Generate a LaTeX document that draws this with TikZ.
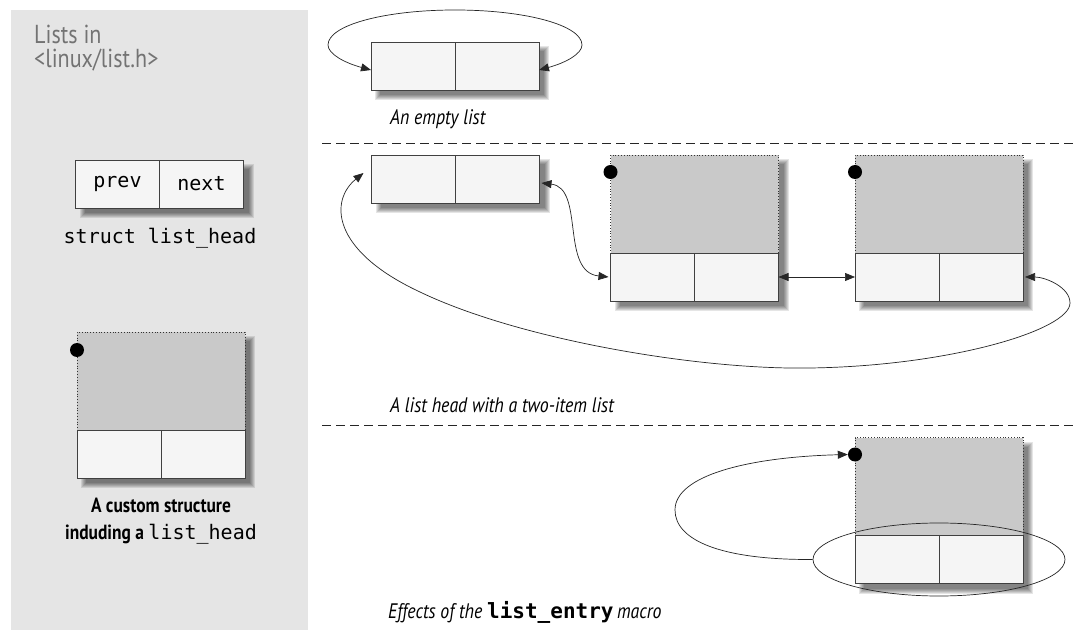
\documentclass[tikz,border=0pt]{standalone}
\usepackage{fontspec}
\setmainfont{PT Sans}
\setmonofont{DejaVu Sans Mono}
\newfontfamily\cfont[FakeStretch=0.85]{PT Sans}
\usetikzlibrary{arrows.meta,shapes.geometric}
\newcommand\softshadow[1]{%
  \foreach \e in {3,2,1,0,-1,-2}{%
    \fill[black, opacity=0.1] ([xshift=7pt-\e pt, yshift=-7pt+\e pt]#1.north west) rectangle ([xshift=7pt+\e pt, yshift=-7pt-\e pt]#1.south east);
  }}
\begin{document}
\begin{tikzpicture}[x=1pt,y=-1pt,
  cell/.style={draw=black!75, line width=0.9pt, fill=black!4, minimum width=84pt, minimum height=48pt, inner sep=0pt, outer sep=0pt},
  body/.style={draw=black!80, dotted, line width=0.8pt, fill=black!21, minimum width=168pt, minimum height=98pt, inner sep=0pt, outer sep=0pt},
  shad/.style={inner sep=0pt, outer sep=0pt, minimum width=168pt},
  bigdot/.style={circle, fill=black, minimum size=14pt, inner sep=0pt},
  conn/.style={line width=0.7pt, draw=black!85},
  tip/.tip={Triangle[length=10pt,width=8pt]},
  sep/.style={draw=black!85, dash pattern=on 9pt off 5pt, line width=0.9pt},
  capt/.style={font=\cfont\itshape\fontsize{21}{22}\selectfont, anchor=west, inner sep=0pt},
  mono/.style={font=\ttfamily\fontsize{20}{21}\selectfont}
]
\useasboundingbox (0,0) rectangle (1077,636);
\fill[white] (0,0) rectangle (1077,636);

% left panel
\node[fill=black!10, minimum width=297pt, minimum height=620pt, inner sep=0pt, anchor=north west] (panel) at (11,10) {};
\node[text=black!55, align=left, anchor=north west, inner sep=0pt, font=\cfont\fontsize{26}{24}\selectfont] (title) at (34,25) {Lists in\\<linux/list.h>};

% struct list_head
\node[shad, minimum height=48pt] (ps) at (159.5,184) {};
\softshadow{ps}
\node[cell, mono] (p1) at (117.5,184) {prev};
\node[cell, mono] (p2) at (201.5,184) {next};
\node[mono] (sl) at (160,238) {struct list\_head};

% custom structure
\node[shad, minimum height=146pt] (gs0) at (161,405) {};
\softshadow{gs0}
\node[body] (g0) at (161,381) {};
\node[cell] (d01) at (119,454) {};
\node[cell] (d02) at (203,454) {};
\node[bigdot] (k0) at ([yshift=-18pt]g0.north west) {};
\node[align=center, font=\cfont\bfseries\fontsize{20.5}{27}\selectfont] (cc) at (161,521) {A custom structure\\induding a {\ttfamily\mdseries\fontsize{20}{27}\selectfont list\_head}};

% empty list
\node[shad, minimum height=48pt] (es) at (455,66) {};
\softshadow{es}
\node[cell] (e1) at (413,66) {};
\node[cell] (e2) at (497,66) {};
\draw[conn, tip-tip] ([yshift=-4pt]e1.west) .. controls (345,63) and (328,54) .. (328,45)
  .. controls (328,25) and (385,10) .. (455,10)
  .. controls (525,10) and (582,25) .. (582,45)
  .. controls (582,54) and (565,63) .. ([yshift=-4pt]e2.east);
\node[capt] (c1) at (390,119) {An empty list};

\coordinate (s1a) at (322,143); \coordinate (s1b) at (1077,143);
\draw[sep] (s1a) -- (s1b);

% list head with two items
\node[shad, minimum height=48pt] (hs) at (455.5,179) {};
\softshadow{hs}
\node[cell] (h1) at (413.5,179) {};
\node[cell] (h2) at (497.5,179) {};

\node[shad, minimum height=146pt] (gs1) at (694.5,228) {};
\softshadow{gs1}
\node[body] (g1) at (694.5,204) {};
\node[cell] (a1) at (652.5,277) {};
\node[cell] (a2) at (736.5,277) {};
\node[bigdot] (k1) at ([yshift=-17pt]g1.north west) {};

\node[shad, minimum height=146pt] (gs2) at (939,228) {};
\softshadow{gs2}
\node[body] (g2) at (939,204) {};
\node[cell] (b1) at (897,277) {};
\node[cell] (b2) at (981,277) {};
\node[bigdot] (k2) at ([yshift=-17pt]g2.north west) {};

\draw[conn, tip-tip] ([yshift=-4pt,xshift=2pt]h2.east) .. controls (585,188) and (560,272) .. ([xshift=-2pt]a1.west);
\draw[conn, tip-tip] (a2.east) -- (b1.west);
\draw[conn, tip-tip] ([xshift=2pt]b2.east) .. controls (1045,277) and (1070,287) .. (1070,303)
  .. controls (1070,330) and (950,366) .. (810,368)
  .. controls (700,370) and (520,340) .. (420,292)
  .. controls (330,250) and (330,200) .. ([xshift=-8pt,yshift=6pt]h1.west);
\node[capt] (c2) at (390,405) {A list head with a two-item list};

\coordinate (s2a) at (322,425); \coordinate (s2b) at (1077,425);
\draw[sep] (s2a) -- (s2b);

% list_entry
\node[shad, minimum height=146pt] (gs3) at (939,511) {};
\softshadow{gs3}
\node[body] (g3) at (939,486.5) {};
\node[cell] (f1) at (897,559.5) {};
\node[cell] (f2) at (981,559.5) {};
\node[bigdot] (k3) at ([yshift=-17pt]g3.north west) {};
\node[ellipse, draw=black!85, line width=0.7pt, minimum width=252pt, minimum height=73pt, inner sep=0pt] (el) at (939,559.5) {};
\draw[conn, -tip] (el.west) .. controls (720,560) and (675,540) .. (675,510)
  .. controls (675,475) and (750,457) .. (k3.west);
\node[capt] (c3) at (388,612) {Effects of the {\ttfamily\upshape\bfseries\fontsize{21}{22}\selectfont list\_entry}\,macro};
\end{tikzpicture}
\end{document}
